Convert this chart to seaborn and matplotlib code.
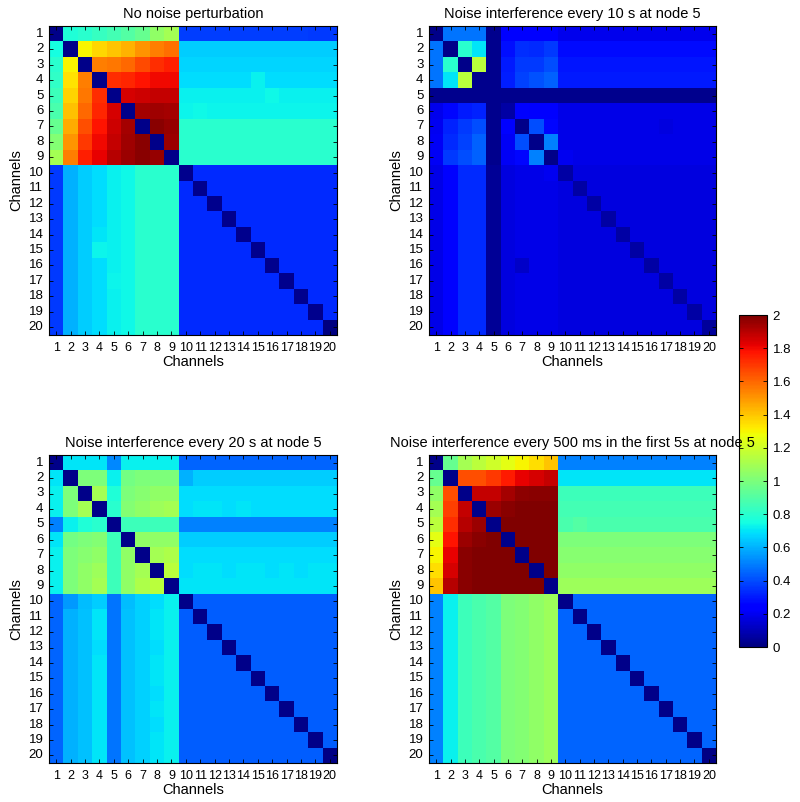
import numpy as np
import matplotlib
matplotlib.use("Agg")
import matplotlib.pyplot as plt
import seaborn as sns

channels = [str(i) for i in range(1, 21)]

titles = [
    "No noise perturbation",
    "Noise interference every 10 s at node 5",
    "Noise interference every 20 s at node 5",
    "Noise interference every 500 ms in the first 5s at node 5",
]

no_noise = [
    [0.02,0.78,0.80,0.83,0.86,0.90,0.95,1.05,1.10,0.37,0.37,0.37,0.37,0.37,0.37,0.37,0.37,0.37,0.36,0.36],
    [0.75,0.02,1.30,1.36,1.40,1.44,1.50,1.55,1.58,0.65,0.65,0.65,0.65,0.65,0.65,0.65,0.65,0.65,0.65,0.65],
    [0.80,1.30,0.02,1.55,1.57,1.60,1.66,1.72,1.75,0.67,0.67,0.67,0.67,0.67,0.67,0.67,0.67,0.67,0.67,0.67],
    [0.82,1.34,1.55,0.02,1.72,1.74,1.78,1.80,1.80,0.68,0.68,0.68,0.68,0.68,0.72,0.68,0.68,0.68,0.68,0.68],
    [0.85,1.37,1.57,1.72,0.02,1.85,1.86,1.88,1.88,0.72,0.72,0.72,0.72,0.72,0.72,0.74,0.72,0.72,0.72,0.72],
    [0.88,1.41,1.60,1.74,1.85,0.02,1.93,1.94,1.93,0.73,0.74,0.73,0.73,0.73,0.73,0.73,0.73,0.73,0.73,0.73],
    [0.95,1.46,1.65,1.78,1.86,1.93,0.02,1.98,1.96,0.80,0.80,0.80,0.80,0.80,0.80,0.80,0.80,0.80,0.80,0.80],
    [1.02,1.50,1.70,1.80,1.88,1.94,1.98,0.02,1.95,0.80,0.80,0.80,0.80,0.80,0.80,0.80,0.80,0.80,0.80,0.80],
    [1.10,1.55,1.75,1.82,1.90,1.95,1.98,1.96,0.02,0.80,0.80,0.80,0.80,0.80,0.80,0.80,0.80,0.80,0.80,0.80],
    [0.36,0.60,0.65,0.68,0.72,0.74,0.80,0.80,0.80,0.03,0.33,0.33,0.33,0.33,0.33,0.33,0.33,0.33,0.33,0.33],
    [0.36,0.60,0.65,0.68,0.72,0.74,0.80,0.80,0.80,0.33,0.03,0.33,0.33,0.33,0.33,0.33,0.33,0.33,0.33,0.33],
    [0.36,0.60,0.65,0.68,0.72,0.74,0.80,0.80,0.80,0.33,0.33,0.03,0.33,0.33,0.33,0.33,0.33,0.33,0.33,0.33],
    [0.36,0.60,0.65,0.68,0.72,0.74,0.80,0.80,0.80,0.33,0.33,0.33,0.03,0.33,0.33,0.33,0.33,0.33,0.33,0.33],
    [0.36,0.60,0.65,0.70,0.72,0.74,0.80,0.80,0.80,0.33,0.33,0.33,0.33,0.03,0.33,0.33,0.33,0.33,0.33,0.33],
    [0.36,0.60,0.65,0.73,0.72,0.74,0.80,0.80,0.80,0.33,0.33,0.33,0.33,0.33,0.03,0.33,0.33,0.33,0.33,0.33],
    [0.36,0.60,0.65,0.68,0.72,0.74,0.80,0.80,0.80,0.33,0.33,0.33,0.33,0.33,0.33,0.03,0.33,0.33,0.33,0.33],
    [0.36,0.60,0.65,0.68,0.73,0.74,0.80,0.80,0.80,0.33,0.33,0.33,0.33,0.33,0.33,0.33,0.03,0.33,0.33,0.33],
    [0.36,0.60,0.65,0.68,0.72,0.74,0.80,0.80,0.80,0.33,0.33,0.33,0.33,0.33,0.33,0.33,0.33,0.03,0.33,0.33],
    [0.36,0.60,0.65,0.68,0.72,0.74,0.80,0.80,0.80,0.33,0.33,0.33,0.33,0.33,0.33,0.33,0.33,0.33,0.03,0.33],
    [0.36,0.60,0.65,0.68,0.72,0.74,0.80,0.80,0.80,0.33,0.33,0.33,0.33,0.33,0.33,0.33,0.33,0.33,0.33,0.00],
]

noise_10s = [
    [0.02,0.48,0.48,0.48,0.03,0.22,0.22,0.22,0.22,0.19,0.19,0.19,0.19,0.19,0.19,0.19,0.19,0.19,0.19,0.19],
    [0.48,0.02,0.80,0.70,0.03,0.28,0.34,0.33,0.36,0.27,0.27,0.27,0.27,0.27,0.27,0.27,0.27,0.27,0.27,0.27],
    [0.48,0.80,0.02,1.15,0.03,0.30,0.36,0.36,0.40,0.29,0.29,0.29,0.29,0.29,0.29,0.29,0.29,0.29,0.29,0.29],
    [0.48,0.70,1.15,0.03,0.03,0.31,0.38,0.41,0.44,0.30,0.30,0.30,0.30,0.30,0.30,0.30,0.30,0.30,0.30,0.30],
    [0.03,0.03,0.03,0.03,0.03,0.03,0.03,0.03,0.03,0.03,0.03,0.03,0.03,0.03,0.03,0.03,0.03,0.03,0.03,0.03],
    [0.19,0.26,0.30,0.32,0.03,0.07,0.25,0.22,0.22,0.18,0.18,0.18,0.18,0.18,0.18,0.18,0.18,0.18,0.18,0.18],
    [0.20,0.32,0.36,0.40,0.03,0.25,0.02,0.40,0.26,0.18,0.18,0.18,0.18,0.18,0.18,0.18,0.17,0.18,0.18,0.18],
    [0.21,0.33,0.38,0.44,0.03,0.21,0.40,0.02,0.50,0.18,0.18,0.18,0.18,0.18,0.18,0.18,0.18,0.18,0.18,0.18],
    [0.21,0.36,0.40,0.44,0.03,0.21,0.26,0.50,0.02,0.20,0.18,0.18,0.18,0.18,0.18,0.18,0.18,0.18,0.18,0.18],
    [0.18,0.25,0.33,0.33,0.04,0.17,0.18,0.18,0.20,0.07,0.17,0.17,0.17,0.17,0.17,0.17,0.17,0.17,0.17,0.17],
    [0.18,0.25,0.33,0.33,0.04,0.17,0.18,0.18,0.18,0.17,0.07,0.17,0.17,0.17,0.17,0.17,0.17,0.17,0.17,0.17],
    [0.18,0.25,0.33,0.33,0.04,0.17,0.18,0.18,0.18,0.17,0.17,0.07,0.17,0.17,0.17,0.17,0.17,0.17,0.17,0.17],
    [0.18,0.25,0.33,0.33,0.04,0.17,0.18,0.18,0.18,0.17,0.17,0.17,0.07,0.17,0.17,0.17,0.17,0.17,0.17,0.17],
    [0.18,0.25,0.33,0.33,0.04,0.17,0.18,0.18,0.18,0.17,0.17,0.17,0.17,0.07,0.17,0.17,0.17,0.17,0.17,0.17],
    [0.18,0.25,0.33,0.33,0.04,0.17,0.18,0.18,0.18,0.17,0.17,0.17,0.17,0.17,0.07,0.17,0.17,0.17,0.17,0.17],
    [0.18,0.25,0.33,0.33,0.04,0.17,0.13,0.18,0.18,0.17,0.17,0.17,0.17,0.17,0.17,0.07,0.17,0.17,0.17,0.17],
    [0.18,0.25,0.33,0.33,0.04,0.17,0.18,0.18,0.18,0.17,0.17,0.17,0.17,0.17,0.17,0.17,0.07,0.17,0.17,0.17],
    [0.18,0.25,0.33,0.33,0.04,0.17,0.18,0.18,0.18,0.17,0.17,0.17,0.17,0.17,0.17,0.17,0.17,0.07,0.17,0.17],
    [0.18,0.25,0.33,0.33,0.04,0.17,0.18,0.18,0.18,0.17,0.17,0.17,0.17,0.17,0.17,0.17,0.17,0.17,0.07,0.17],
    [0.18,0.25,0.33,0.33,0.04,0.17,0.18,0.18,0.18,0.17,0.17,0.17,0.17,0.17,0.17,0.17,0.17,0.17,0.17,0.05],
]

noise_20s = [
    [0.02,0.70,0.70,0.70,0.52,0.72,0.72,0.72,0.72,0.45,0.45,0.45,0.45,0.45,0.45,0.45,0.45,0.45,0.45,0.45],
    [0.70,0.02,1.00,1.00,0.72,0.98,1.00,1.00,1.00,0.60,0.65,0.65,0.65,0.65,0.65,0.65,0.65,0.65,0.65,0.65],
    [0.72,1.00,0.02,1.10,0.78,1.00,1.03,1.05,1.05,0.68,0.68,0.68,0.68,0.68,0.68,0.68,0.68,0.68,0.68,0.68],
    [0.72,1.00,1.10,0.02,0.80,1.02,1.05,1.08,1.10,0.68,0.70,0.70,0.68,0.70,0.68,0.68,0.68,0.68,0.68,0.68],
    [0.50,0.72,0.78,0.80,0.02,0.85,0.85,0.85,0.85,0.50,0.50,0.50,0.50,0.50,0.50,0.50,0.50,0.50,0.50,0.50],
    [0.70,0.98,1.00,1.02,0.85,0.02,1.05,1.05,1.05,0.65,0.65,0.65,0.65,0.65,0.65,0.65,0.65,0.65,0.65,0.65],
    [0.72,1.00,1.03,1.05,0.85,1.05,0.02,1.10,1.12,0.68,0.68,0.68,0.68,0.68,0.68,0.68,0.68,0.68,0.68,0.68],
    [0.72,1.00,1.05,1.08,0.85,1.05,1.10,0.02,1.15,0.68,0.70,0.70,0.68,0.70,0.70,0.68,0.70,0.68,0.70,0.70],
    [0.72,1.00,1.05,1.10,0.85,1.05,1.12,1.15,0.02,0.70,0.70,0.70,0.70,0.70,0.70,0.70,0.70,0.70,0.70,0.70],
    [0.45,0.55,0.62,0.65,0.48,0.62,0.66,0.68,0.72,0.02,0.43,0.43,0.43,0.43,0.43,0.43,0.43,0.43,0.43,0.43],
    [0.45,0.60,0.63,0.70,0.48,0.63,0.66,0.70,0.72,0.43,0.02,0.43,0.43,0.43,0.43,0.43,0.43,0.43,0.43,0.43],
    [0.45,0.60,0.63,0.70,0.48,0.63,0.66,0.70,0.72,0.43,0.43,0.02,0.43,0.43,0.43,0.43,0.43,0.43,0.43,0.43],
    [0.45,0.60,0.63,0.68,0.48,0.63,0.66,0.68,0.72,0.43,0.43,0.43,0.02,0.43,0.43,0.43,0.43,0.43,0.43,0.43],
    [0.45,0.60,0.63,0.70,0.48,0.63,0.66,0.70,0.72,0.43,0.43,0.43,0.43,0.02,0.43,0.43,0.43,0.43,0.43,0.43],
    [0.45,0.60,0.63,0.70,0.48,0.63,0.66,0.70,0.72,0.43,0.43,0.43,0.43,0.43,0.02,0.43,0.43,0.43,0.43,0.43],
    [0.45,0.60,0.63,0.70,0.48,0.63,0.66,0.68,0.72,0.43,0.43,0.43,0.43,0.43,0.43,0.02,0.43,0.43,0.43,0.43],
    [0.45,0.60,0.63,0.70,0.48,0.63,0.66,0.70,0.72,0.43,0.43,0.43,0.43,0.43,0.43,0.43,0.02,0.43,0.43,0.43],
    [0.45,0.60,0.63,0.70,0.48,0.63,0.66,0.68,0.72,0.43,0.43,0.43,0.43,0.43,0.43,0.43,0.43,0.02,0.43,0.43],
    [0.45,0.60,0.63,0.70,0.48,0.63,0.66,0.70,0.72,0.43,0.43,0.43,0.43,0.43,0.43,0.43,0.43,0.43,0.02,0.43],
    [0.45,0.60,0.63,0.70,0.48,0.63,0.66,0.70,0.72,0.43,0.43,0.43,0.43,0.43,0.43,0.43,0.43,0.43,0.43,0.01],
]

noise_500ms = [
    [0.02,0.95,1.10,1.15,1.20,1.25,1.30,1.35,1.40,0.50,0.50,0.50,0.50,0.50,0.50,0.50,0.50,0.50,0.50,0.50],
    [0.95,0.02,1.65,1.65,1.70,1.76,1.82,1.85,1.88,0.70,0.70,0.70,0.70,0.70,0.70,0.70,0.70,0.70,0.70,0.70],
    [1.05,1.65,0.02,1.88,1.88,1.93,1.97,1.98,1.98,0.85,0.85,0.85,0.85,0.85,0.85,0.85,0.85,0.85,0.85,0.85],
    [1.10,1.68,1.88,0.02,1.95,1.98,2.00,2.00,2.00,0.86,0.86,0.86,0.86,0.86,0.86,0.86,0.86,0.86,0.86,0.86],
    [1.15,1.72,1.90,1.95,0.02,2.00,2.00,2.00,2.00,0.88,0.90,0.88,0.88,0.88,0.88,0.88,0.88,0.88,0.88,0.88],
    [1.25,1.78,1.95,1.98,2.00,0.02,2.00,2.00,2.00,1.00,1.00,1.00,1.00,1.00,1.00,1.00,1.00,1.00,1.00,1.00],
    [1.30,1.82,1.98,2.00,2.00,2.00,0.02,2.00,2.00,1.03,1.03,1.03,1.03,1.03,1.03,1.03,1.03,1.03,1.03,1.03],
    [1.35,1.85,1.98,2.00,2.00,2.00,2.00,0.02,2.00,1.05,1.05,1.05,1.05,1.05,1.05,1.05,1.05,1.05,1.05,1.05],
    [1.40,1.90,1.98,2.00,2.00,2.00,2.00,2.00,0.02,1.08,1.08,1.08,1.08,1.08,1.08,1.08,1.08,1.08,1.08,1.08],
    [0.50,0.72,0.85,0.88,0.90,1.00,1.02,1.05,1.08,0.02,0.45,0.45,0.45,0.45,0.45,0.45,0.45,0.45,0.45,0.45],
    [0.50,0.72,0.85,0.88,0.90,1.00,1.02,1.05,1.08,0.45,0.02,0.45,0.45,0.45,0.45,0.45,0.45,0.45,0.45,0.45],
    [0.50,0.72,0.85,0.88,0.90,1.00,1.02,1.05,1.08,0.45,0.45,0.02,0.45,0.45,0.45,0.45,0.45,0.45,0.45,0.45],
    [0.50,0.72,0.85,0.88,0.90,1.00,1.02,1.05,1.08,0.45,0.45,0.45,0.02,0.45,0.45,0.45,0.45,0.45,0.45,0.45],
    [0.50,0.72,0.85,0.88,0.90,1.00,1.02,1.05,1.08,0.45,0.45,0.45,0.45,0.02,0.45,0.45,0.45,0.45,0.45,0.45],
    [0.50,0.72,0.85,0.88,0.90,1.00,1.02,1.05,1.08,0.45,0.45,0.45,0.45,0.45,0.02,0.45,0.45,0.45,0.45,0.45],
    [0.50,0.72,0.85,0.88,0.90,1.00,1.02,1.05,1.08,0.45,0.45,0.45,0.45,0.45,0.45,0.02,0.45,0.45,0.45,0.45],
    [0.50,0.72,0.85,0.88,0.90,1.00,1.02,1.05,1.08,0.45,0.45,0.45,0.45,0.45,0.45,0.45,0.02,0.45,0.45,0.45],
    [0.50,0.72,0.85,0.88,0.90,1.00,1.02,1.05,1.08,0.45,0.45,0.45,0.45,0.45,0.45,0.45,0.45,0.02,0.45,0.45],
    [0.50,0.72,0.85,0.88,0.90,1.00,1.02,1.05,1.08,0.45,0.45,0.45,0.45,0.45,0.45,0.45,0.45,0.45,0.02,0.45],
    [0.50,0.72,0.85,0.88,0.90,1.00,1.02,1.05,1.08,0.45,0.45,0.45,0.45,0.45,0.45,0.45,0.45,0.45,0.45,0.01],
]

cbar_ticks = [0, 0.2, 0.4, 0.6, 0.8, 1, 1.2, 1.4, 1.6, 1.8, 2]

plt.rcParams['font.family'] = ['Liberation Sans', 'DejaVu Sans']
FS = 10.5
TICK_FS = 9.5
XTICK_FS = 9.0

fig = plt.figure(figsize=(8.0, 8.02), dpi=100)
W, H = 800.0, 802.0

# colour bar axes first, kept underneath the heat maps (so the long title sits on top)
cax = fig.add_axes([739 / W, 1 - 647 / H, 28 / W, 332 / H])
cax.set_zorder(0)

# axes boxes in pixels: (left, top, right, bottom)
boxes = [(49, 26, 337, 335), (429, 26, 716, 335),
         (49, 455, 337, 763), (429, 455, 716, 763)]
matrices = [no_noise, noise_10s, noise_20s, noise_500ms]

mappable = None
for (l, t, r, b), mat, title in zip(boxes, matrices, titles):
    ax = fig.add_axes([l / W, 1 - b / H, (r - l) / W, (b - t) / H])
    ax.set_zorder(1)
    sns.heatmap(np.array(mat), cmap='jet', vmin=0, vmax=2, ax=ax, cbar=False,
                xticklabels=channels, yticklabels=channels, square=False)
    mappable = ax.collections[0]
    ax.set_title(title, fontsize=FS, pad=6)
    ax.set_xlabel("Channels", fontsize=FS, labelpad=1)
    ax.set_ylabel("Channels", fontsize=FS, labelpad=4)
    ax.tick_params(axis='both', which='both', direction='in', length=3, width=0.6,
                   color='black', top=True, right=True, pad=3)
    ax.tick_params(axis='y', labelsize=TICK_FS, pad=4)
    ax.tick_params(axis='x', labelsize=XTICK_FS, pad=5)
    plt.setp(ax.get_yticklabels(), rotation=0)
    plt.setp(ax.get_xticklabels(), rotation=0)
    for sp in ax.spines.values():
        sp.set_visible(True)
        sp.set_color('black')
        sp.set_linewidth(0.8)

cb = fig.colorbar(mappable, cax=cax, ticks=cbar_ticks)
cb.ax.set_yticklabels([f"{v:g}" for v in cbar_ticks])
cax.tick_params(direction='in', length=3, width=0.6, left=True, right=True,
                labelsize=TICK_FS, pad=4)
cb.outline.set_linewidth(0.8)

fig.savefig("out.png", dpi=100)
